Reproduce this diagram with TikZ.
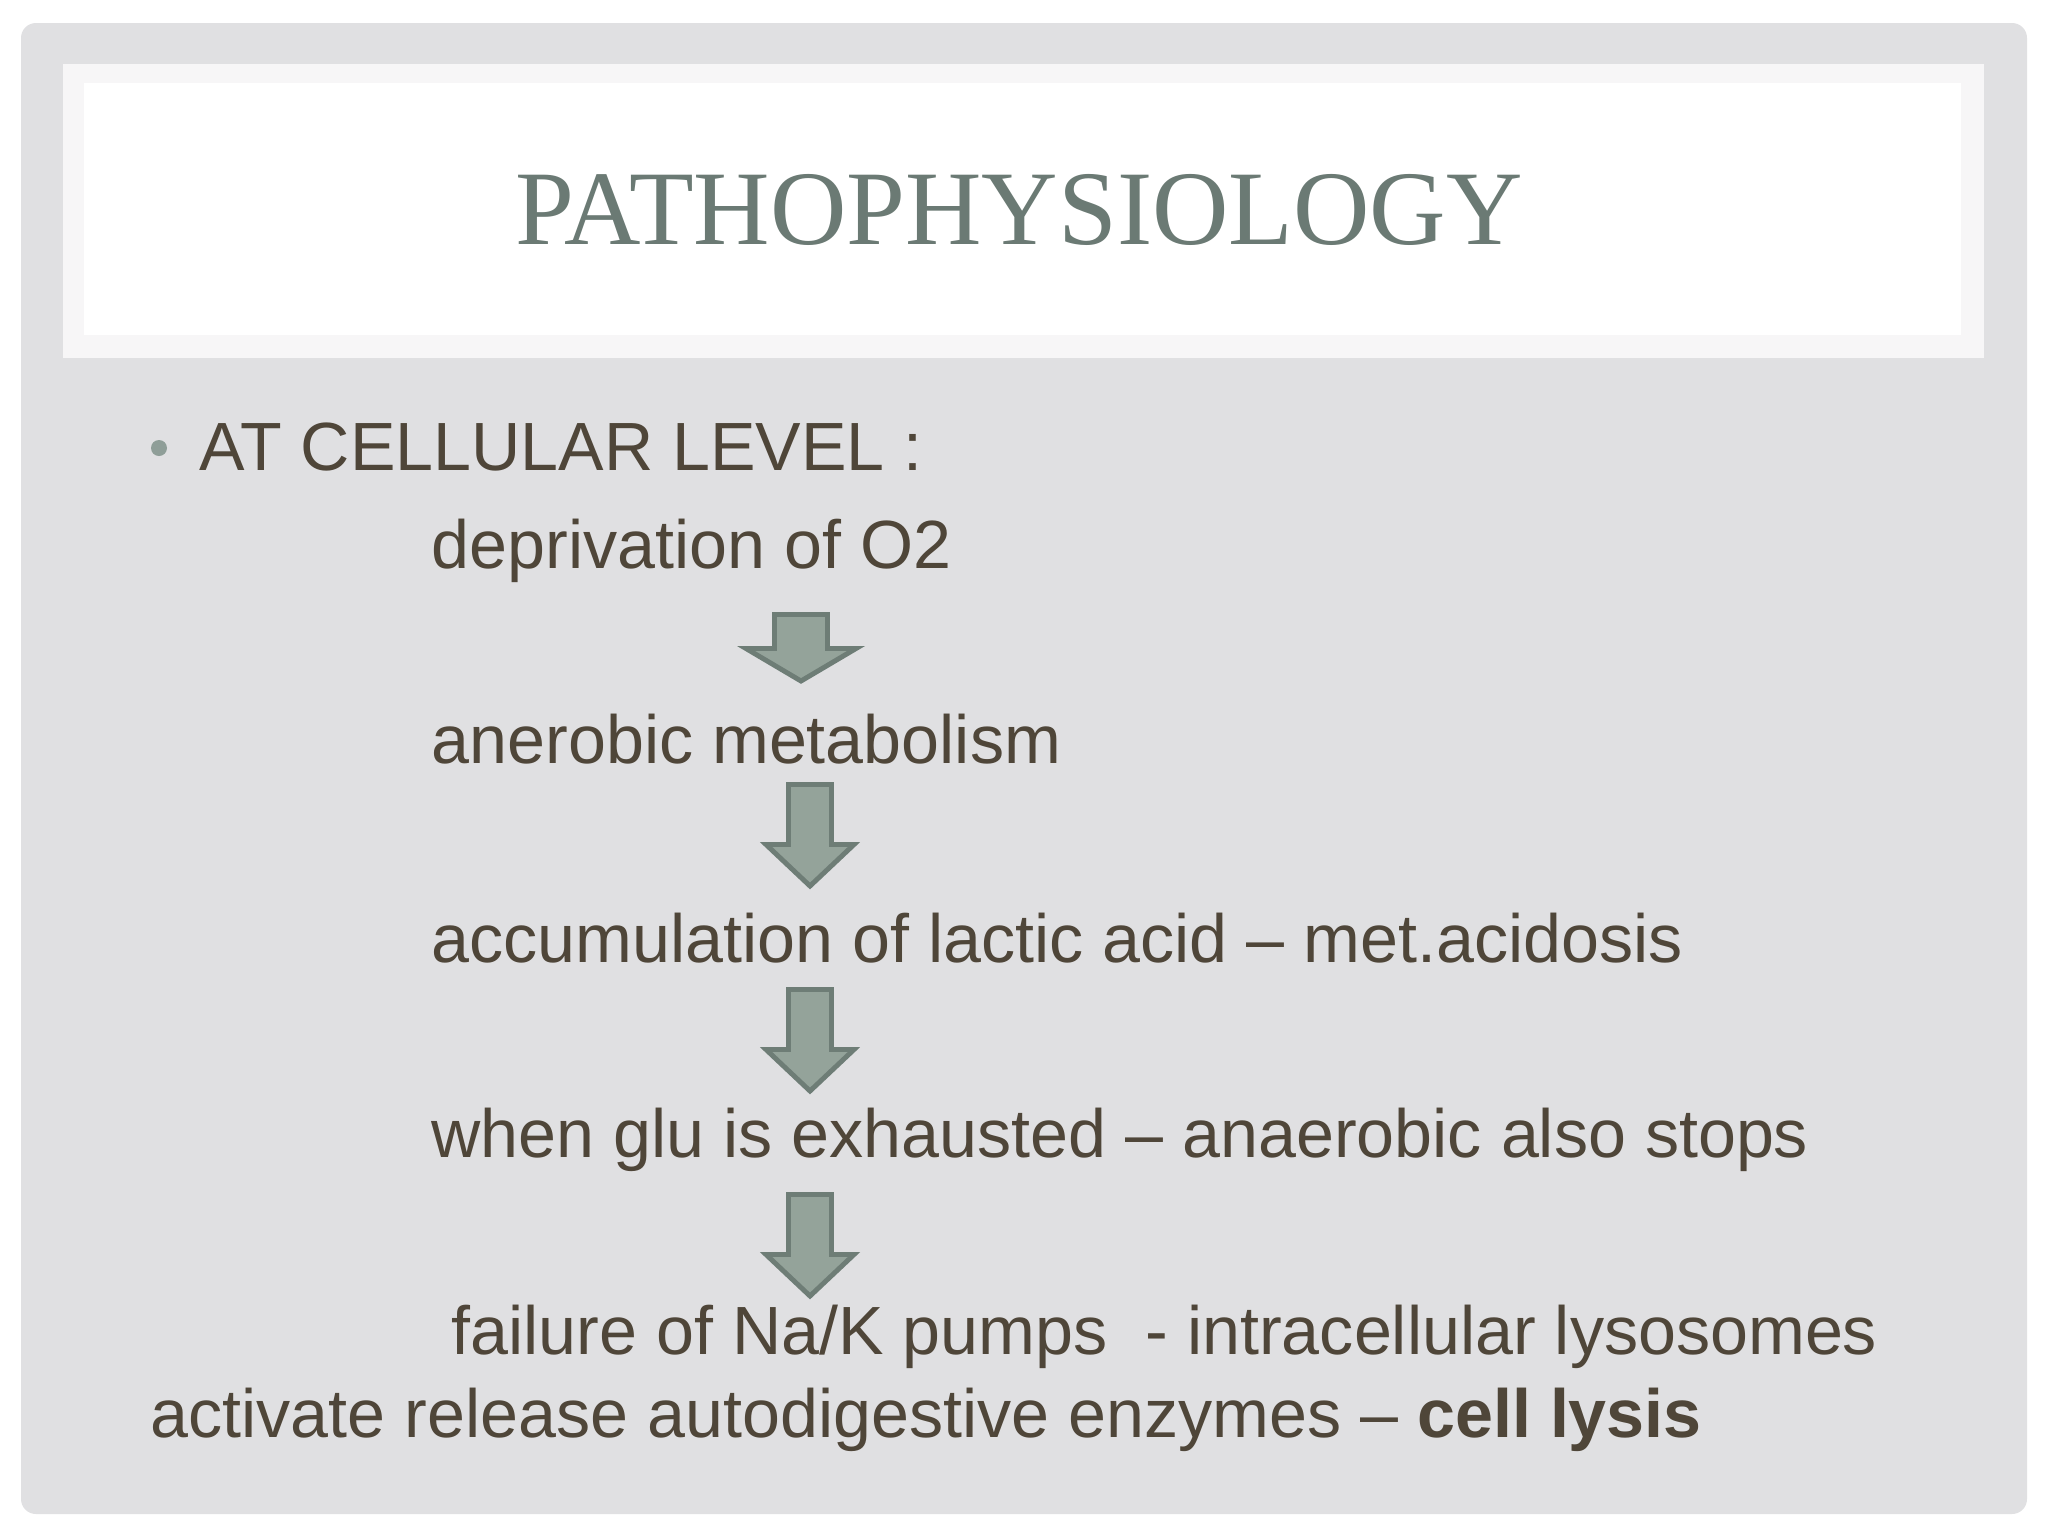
\documentclass[tikz,border=0pt]{standalone}
\usepackage{fontspec}
\setmainfont{Liberation Sans}
\newfontfamily\titlefont{Liberation Serif}
\usepackage{tikz}

\definecolor{slidegray}{RGB}{224,224,226}
\definecolor{panelrim}{RGB}{247,246,247}
\definecolor{titlecol}{RGB}{107,122,116}
\definecolor{bodycol}{RGB}{79,70,57}
\definecolor{arrowfill}{RGB}{148,163,154}
\definecolor{arrowline}{RGB}{110,125,118}
\definecolor{bulletcol}{RGB}{143,158,152}

\begin{document}
\begin{tikzpicture}[x=0.01cm, y=-0.01cm,
		bodytext/.style={anchor=base west, inner sep=0pt, text=bodycol, font=\fontsize{19.4}{23}\selectfont},
		downarrow/.style={fill=arrowfill, draw=arrowline, line width=1.4pt, line join=miter}]
		\useasboundingbox (0,0) rectangle (2048,1536);
		% slide background
		\fill[white] (0,0) rectangle (2048,1536);
		\fill[slidegray, rounded corners=0.15cm] (21,23) rectangle (2027,1514);
		% title panel
		\fill[panelrim] (63,64) rectangle (1984,358);
		\fill[white] (84,83) rectangle (1961,335);
		\node[anchor=base, inner sep=0pt, text=titlecol, font=\titlefont\fontsize{30.1}{34}\selectfont] (title) at (1019,244) {PATHOPHYSIOLOGY};
		% bullet line
		\fill[bulletcol] (159,448) circle (8);
		\node[bodytext] (level) at (199,470) {AT CELLULAR LEVEL :};
		% chain of steps
		\node[bodytext] (depr) at (431,568) {deprivation of O2};
		\node[bodytext] (anaer) at (431,763) {anerobic metabolism};
		\node[bodytext] (lactic) at (431,962) {accumulation of lactic acid -- met.acidosis};
		\node[bodytext] (glu) at (431,1157) {when glu is exhausted -- anaerobic also stops};
		\node[bodytext] (pumps) at (451,1354) {failure of Na/K pumps~ - intracellular lysosomes};
		\node[bodytext] (lysis) at (150,1437) {activate release autodigestive enzymes -- \textbf{cell lysis}};
		% block arrows between steps
		\draw[downarrow] (774.5,614.5) -- (827.5,614.5) -- (827.5,648.5) -- (856,648.5) -- (801,681) -- (746,648.5) -- (774.5,648.5) -- cycle;
		\draw[downarrow] (788.5,784.5) -- (831.5,784.5) -- (831.5,844.5) -- (854,844.5) -- (810,886) -- (766,844.5) -- (788.5,844.5) -- cycle;
		\draw[downarrow] (788.5,989.5) -- (831.5,989.5) -- (831.5,1049.5) -- (854,1049.5) -- (810,1091) -- (766,1049.5) -- (788.5,1049.5) -- cycle;
		\draw[downarrow] (788.5,1194.5) -- (831.5,1194.5) -- (831.5,1254.5) -- (854,1254.5) -- (810,1296) -- (766,1254.5) -- (788.5,1254.5) -- cycle;
	\end{tikzpicture}
\end{document}
